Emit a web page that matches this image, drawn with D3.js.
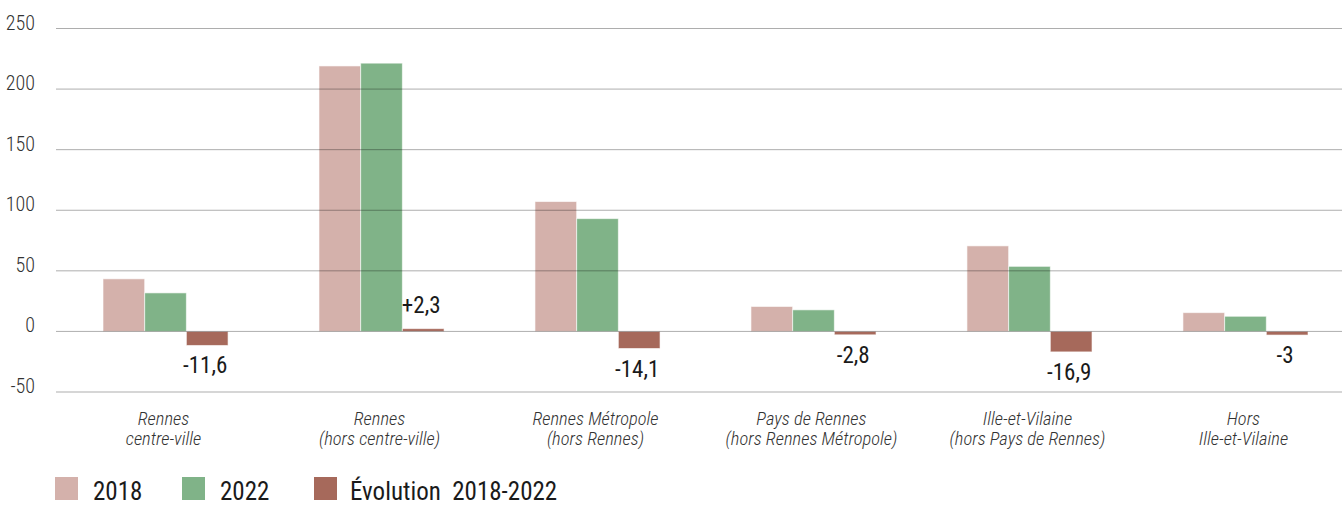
<!DOCTYPE html>
<html>
  <head>
    <meta charset="utf-8">
    <title>Evolution 2018-2022</title>
    <script src="https://d3js.org/d3.v7.min.js"></script>
    <style>
      body { margin: 0; background: #fff; }
      svg { display: block; font-family: "Roboto Condensed", "Liberation Sans Narrow", "DejaVu Sans Condensed", Roboto, sans-serif; }
      .grid line { stroke: rgba(0, 0, 0, 0.32); stroke-width: 1; }
      .tick { font-size: 20px; font-weight: 300; fill: #333; }
      .cat { font-size: 18.5px; font-weight: 300; font-style: italic; fill: #333; }
      .value { font-size: 23px; fill: #1a1a1a; }
      .legend text { font-size: 25px; fill: #1a1a1a; white-space: pre; }
      .bar { stroke: rgba(255, 255, 255, 0.6); stroke-width: 1; }
    </style>
  </head>
  <body>
    <svg id="chart" width="1342" height="507"></svg>
    <script>
      // data
      categories = [
        ["Rennes", "centre-ville"],
        ["Rennes", "(hors centre-ville)"],
        ["Rennes Métropole", "(hors Rennes)"],
        ["Pays de Rennes", "(hors Rennes Métropole)"],
        ["Ille-et-Vilaine", "(hors Pays de Rennes)"],
        ["Hors", "Ille-et-Vilaine"]
      ];
      series = ["2018", "2022", "Évolution  2018-2022"];
      values2018 = [43.4, 219.1, 107.2, 20.6, 70.6, 15.5];
      values2022 = [31.8, 221.4, 93.1, 17.8, 53.7, 12.5];
      evolution = [-11.6, 2.3, -14.1, -2.8, -16.9, -3];
      evolutionLabels = ["-11,6", "+2,3", "-14,1", "-2,8", "-16,9", "-3"];
      yTicks = [-50, 0, 50, 100, 150, 200, 250];
      colours = ["#d4b1ab", "#80b388", "#a6695b"];

      rows = categories.map(function(c, i) {
        return { cat: i, values: [values2018[i], values2022[i], evolution[i]], label: evolutionLabels[i] };
      });

      chart = d3.select("#chart");

      // scales
      x0 = d3.scaleBand()
        .domain(d3.range(categories.length))
        .range([56, 1355])
        .paddingInner(0.421)
        .paddingOuter(0.2176);
      x1 = d3.scaleBand()
        .domain(d3.range(series.length))
        .range([0, x0.bandwidth()]);
      y = d3.scaleLinear()
        .domain([-50, 250])
        .range([392, 28.5]);

      // bars
      groups = chart.append("g")
        .selectAll(".group")
          .data(rows)
        .enter().append("g")
          .attr("transform", function(d) { return "translate(" + x0(d.cat) + ",0)"; });
      groups.selectAll("rect")
          .data(function(d) { return d.values; })
        .enter().append("rect")
          .classed("bar", true)
          .attr("x", function(d, i) { return x1(i); })
          .attr("width", x1.bandwidth())
          .attr("y", function(d) { return Math.min(y(d), y(0)); })
          .attr("height", function(d) { return Math.abs(y(d) - y(0)); })
          .attr("fill", function(d, i) { return colours[i]; });

      // gridlines over the bars
      grid = chart.append("g")
        .classed("grid", true)
        .selectAll("line")
          .data(yTicks)
        .enter().append("line")
          .attr("x1", 56)
          .attr("x2", 1342)
          .attr("y1", function(d) { return y(d); })
          .attr("y2", function(d) { return y(d); });
      chart.append("g")
        .selectAll("text")
          .data(yTicks)
        .enter().append("text")
          .classed("tick", true)
          .attr("x", 35)
          .attr("y", function(d) { return y(d) + 1; })
          .attr("text-anchor", "end")
          .text(function(d) { return d; });

      // evolution labels
      groups.append("text")
        .classed("value", true)
        .attr("text-anchor", "middle")
        .attr("x", x1(2) + x1.bandwidth() / 2 - 2)
        .attr("y", function(d) { return d.values[2] < 0 ? y(d.values[2]) + 28 : y(d.values[2]) - 16; })
        .text(function(d) { return d.label; });

      // category labels
      cats = chart.append("g")
        .selectAll("text")
          .data(categories)
        .enter().append("text")
          .classed("cat", true)
          .attr("text-anchor", "middle")
          .attr("x", function(d, i) { return x0(i) + x0.bandwidth() / 2 - 2; })
          .attr("y", 425);
      cats.selectAll("tspan")
          .data(function(d) { return d; })
        .enter().append("tspan")
          .attr("x", function() { return d3.select(this.parentNode).attr("x"); })
          .attr("dy", function(d, i) { return i ? 20 : 0; })
          .text(function(d) { return d; });

      // legend
      legendX = [55, 182, 314];
      legend = chart.append("g")
        .classed("legend", true)
        .selectAll("g")
          .data(series)
        .enter().append("g")
          .attr("transform", function(d, i) { return "translate(" + legendX[i] + ",477)"; });
      legend.append("rect")
        .attr("width", 23)
        .attr("height", 23)
        .attr("fill", function(d, i) { return colours[i]; });
      legend.append("text")
        .attr("x", function(d, i) { return i == 2 ? 36 : 38; })
        .attr("y", 23)
        .text(function(d) { return d; });
    </script>
  </body>
</html>
